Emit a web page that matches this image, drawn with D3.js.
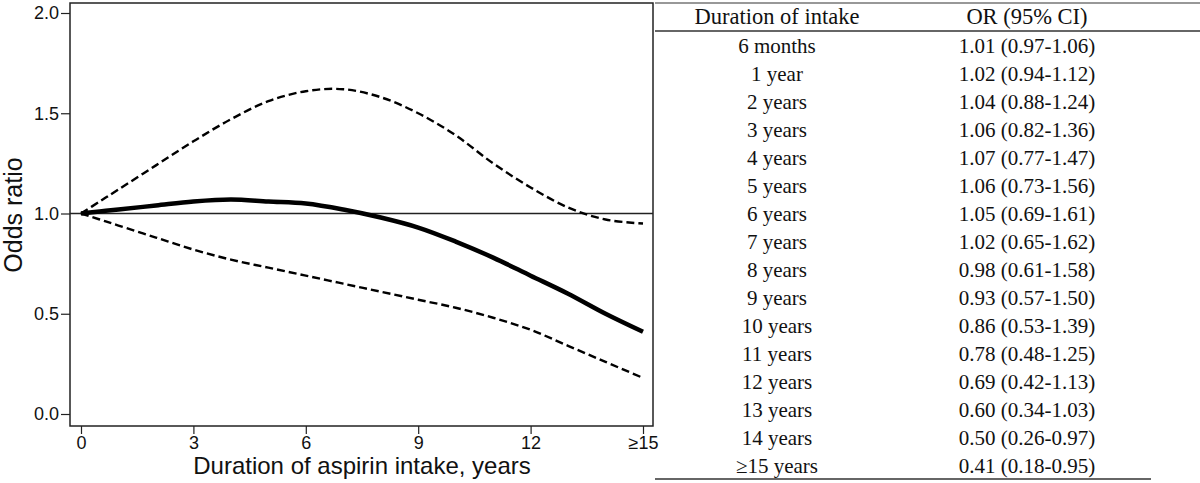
<!doctype html>
<html>
	<head>
		<meta charset="utf-8">
		<script src="https://cdn.jsdelivr.net/npm/d3@7"></script>
		<style>
			body { margin: 0; background: #fff; }
			svg { display: block; }
		</style>
	</head>
	<body>
		<div id="container"></div>
		<script>
			var durationLabels = ["6 months", "1 year", "2 years", "3 years", "4 years", "5 years", "6 years", "7 years",
				"8 years", "9 years", "10 years", "11 years", "12 years", "13 years", "14 years", "\u226515 years"];
			var durationYears = [0, 0.5, 1, 2, 3, 4, 5, 6, 7, 8, 9, 10, 11, 12, 13, 14, 15];
			var orValues = [1, 1.01, 1.02, 1.04, 1.06, 1.07, 1.06, 1.05, 1.02, 0.98, 0.93, 0.86, 0.78, 0.69, 0.60, 0.50, 0.41];
			var lowerCI = [1, 0.97, 0.94, 0.88, 0.82, 0.77, 0.73, 0.69, 0.65, 0.61, 0.57, 0.53, 0.48, 0.42, 0.34, 0.26, 0.18];
			var upperCI = [1, 1.06, 1.12, 1.24, 1.36, 1.47, 1.56, 1.61, 1.62, 1.58, 1.50, 1.39, 1.25, 1.13, 1.03, 0.97, 0.95];
			var xTicks = [0, 3, 6, 9, 12, 15];
			var xTickLabels = ["0", "3", "6", "9", "12", "\u226515"];
			var yTicks = [0, 0.5, 1, 1.5, 2];

			var svg = d3.select("#container").append("svg")
				.attr("width", 1200)
				.attr("height", 483);

			var frameL = 70, frameR = 653, frameT = 3, frameB = 426;
			var x = d3.scaleLinear().domain([0, 15]).range([81, 643]);
			var y = d3.scaleLinear().domain([0, 2]).range([414, 13]);

			var sans = "'Liberation Sans', Arial, Helvetica, sans-serif";
			var serif = "'Liberation Serif', 'Times New Roman', serif";

			// frame
			svg.append("rect")
				.attr("x", frameL).attr("y", frameT)
				.attr("width", frameR - frameL).attr("height", frameB - frameT)
				.attr("fill", "none").attr("stroke", "#222").attr("stroke-width", 1.5);

			// axes
			var yAxis = d3.axisLeft(y).tickValues(yTicks).tickFormat(d3.format(".1f")).tickSize(9).tickPadding(2);
			var gy = svg.append("g").attr("transform", "translate(" + frameL + ",0)").call(yAxis);
			gy.select(".domain").remove();
			gy.selectAll("line").attr("stroke", "#222").attr("stroke-width", 1.2);
			gy.selectAll("text").attr("font-family", sans).attr("font-size", 18).attr("fill", "#111");

			var xAxis = d3.axisBottom(x).tickValues(xTicks).tickFormat(function(d, i) { return xTickLabels[i]; }).tickSize(8).tickPadding(2);
			var gx = svg.append("g").attr("transform", "translate(0," + frameB + ")").call(xAxis);
			gx.select(".domain").remove();
			gx.selectAll("line").attr("stroke", "#222").attr("stroke-width", 1.2);
			gx.selectAll("text").attr("font-family", sans).attr("font-size", 18).attr("fill", "#111");

			// axis titles
			svg.append("text")
				.attr("x", 362).attr("y", 474)
				.attr("text-anchor", "middle")
				.attr("font-family", sans).attr("font-size", 24).attr("fill", "#111")
				.text("Duration of aspirin intake, years");
			svg.append("text")
				.attr("transform", "translate(22,215) rotate(-90)")
				.attr("text-anchor", "middle")
				.attr("font-family", sans).attr("font-size", 25).attr("fill", "#111")
				.text("Odds ratio");

			// reference line at 1
			svg.append("line")
				.attr("x1", frameL).attr("x2", frameR)
				.attr("y1", y(1)).attr("y2", y(1))
				.attr("stroke", "#222").attr("stroke-width", 1.5);

			function makeLine(vals) {
				return d3.line()
					.x(function(d, i) { return x(durationYears[i]); })
					.y(function(d) { return y(d); })
					.curve(d3.curveCatmullRom.alpha(0.5))(vals);
			}

			svg.append("path").attr("d", makeLine(upperCI))
				.attr("fill", "none").attr("stroke", "#000").attr("stroke-width", 2.4).attr("stroke-dasharray", "8,4");
			svg.append("path").attr("d", makeLine(lowerCI))
				.attr("fill", "none").attr("stroke", "#000").attr("stroke-width", 2.4).attr("stroke-dasharray", "8,4");
			svg.append("path").attr("d", makeLine(orValues))
				.attr("fill", "none").attr("stroke", "#000").attr("stroke-width", 4.5);

			// table
			var colA = 777, colB = 1027;
			var table = svg.append("g").attr("font-family", serif).attr("font-size", 21).attr("fill", "#111");
			table.append("line").attr("x1", 655).attr("x2", 1200).attr("y1", 3).attr("y2", 3)
				.attr("stroke", "#333").attr("stroke-width", 1.2);
			table.append("line").attr("x1", 655).attr("x2", 1200).attr("y1", 31).attr("y2", 31)
				.attr("stroke", "#333").attr("stroke-width", 1.5);
			table.append("line").attr("x1", 655).attr("x2", 1151).attr("y1", 479).attr("y2", 479)
				.attr("stroke", "#333").attr("stroke-width", 1.5);

			table.append("text").attr("x", colA).attr("y", 24).attr("text-anchor", "middle")
				.attr("font-size", 22.5).text("Duration of intake");
			table.append("text").attr("x", colB).attr("y", 24).attr("text-anchor", "middle")
				.attr("font-size", 22.5).text("OR (95% CI)");

			var rowY = d3.scaleLinear().domain([0, durationLabels.length - 1]).range([53, 473]);
			var rows = table.selectAll("g.row").data(durationLabels).enter().append("g").attr("class", "row");
			rows.append("text")
				.attr("x", colA).attr("y", function(d, i) { return rowY(i); })
				.attr("text-anchor", "middle")
				.text(function(d) { return d; });
			rows.append("text")
				.attr("x", colB).attr("y", function(d, i) { return rowY(i); })
				.attr("text-anchor", "middle")
				.text(function(d, i) {
					var k = i + 1;
					return orValues[k].toFixed(2) + " (" + lowerCI[k].toFixed(2) + "-" + upperCI[k].toFixed(2) + ")";
				});
		</script>
	</body>
</html>
